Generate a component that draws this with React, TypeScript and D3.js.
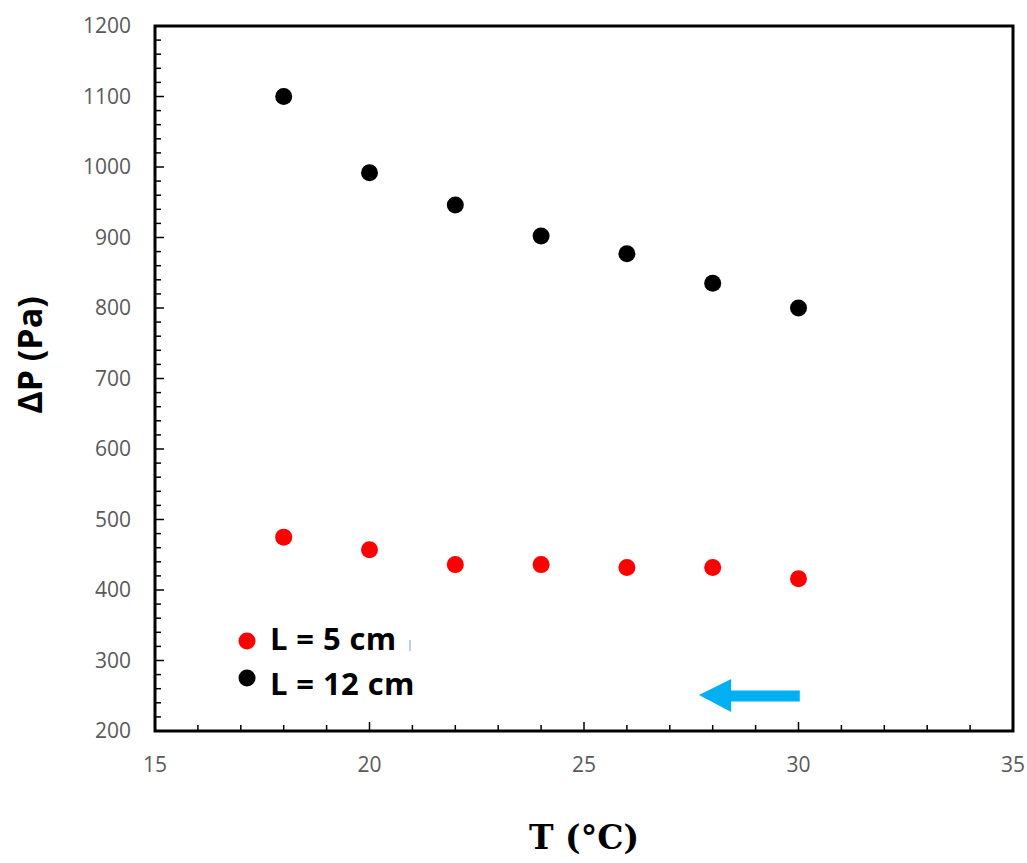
import React from "react";
import * as d3 from "d3";

const temperatures = [18, 20, 22, 24, 26, 28, 30];
const dp5cm = [475, 457, 436, 436, 432, 432, 416];
const dp12cm = [1100, 992, 946, 902, 877, 835, 800];
const xTicks = [15, 20, 25, 30, 35];
const yTicks = [200, 300, 400, 500, 600, 700, 800, 900, 1000, 1100, 1200];
const legendLabels = ["L = 5 cm", "L = 12 cm"];
const seriesColors = ["#FF0000", "#000000"];

export default function App() {
  const W = 1027, H = 863;
  const left = 155, right = 1013, top = 26, bottom = 731;
  const x = d3.scaleLinear().domain([15, 35]).range([left, right]);
  const y = d3.scaleLinear().domain([200, 1200]).range([bottom, top]);
  const xMinor = d3.range(15, 35.001, 1);
  const yMinor = d3.range(200, 1200.001, 20);
  const series = [dp5cm, dp12cm];
  const tickFont = "'Open Sans', 'Liberation Sans', sans-serif";

  const arrowPath = d3.path();
  arrowPath.moveTo(x(27.68), 695);
  arrowPath.lineTo(x(28.43), 679);
  arrowPath.lineTo(x(28.43), 690.5);
  arrowPath.lineTo(x(30.03), 690.5);
  arrowPath.lineTo(x(30.03), 701.5);
  arrowPath.lineTo(x(28.43), 701.5);
  arrowPath.lineTo(x(28.43), 712);
  arrowPath.closePath();

  return (
    <svg width={W} height={H} style={{ position: "absolute", left: 0, top: 0, background: "#fff" }}>
      <rect width={W} height={H} fill="#fff" />
      {/* minor ticks */}
      {yMinor.map((v) => (
        <line key={"ym" + v} x1={left} x2={left + (v % 100 === 0 ? 9 : 6)} y1={y(v)} y2={y(v)} stroke="#000" strokeWidth={1.5} />
      ))}
      {xMinor.map((v) => (
        <line key={"xm" + v} x1={x(v)} x2={x(v)} y1={bottom} y2={bottom - (v % 5 === 0 ? 9 : 6)} stroke="#000" strokeWidth={1.5} />
      ))}
      {/* frame */}
      <rect x={left} y={top} width={right - left} height={bottom - top} fill="none" stroke="#000" strokeWidth={3} />
      {/* tick labels */}
      {yTicks.map((v) => (
        <text key={"yt" + v} x={131} y={y(v)} dy="0.35em" textAnchor="end" fontFamily={tickFont} fontSize={21} fill="#595959">{v}</text>
      ))}
      {xTicks.map((v) => (
        <text key={"xt" + v} x={x(v)} y={765} dy="0.35em" textAnchor="middle" fontFamily={tickFont} fontSize={21} fill="#595959">{v}</text>
      ))}
      {/* data */}
      {series.map((s, si) =>
        s.map((v, i) => (
          <circle key={"p" + si + "-" + i} cx={x(temperatures[i])} cy={y(v)} r={8.5} fill={seriesColors[si]} />
        ))
      )}
      {/* legend */}
      {legendLabels.map((lab, i) => (
        <g key={"lg" + i}>
          <circle cx={247} cy={641 + i * 37} r={8.5} fill={seriesColors[i]} />
          <text x={270} y={650 + i * 45} fontFamily={tickFont} fontWeight="bold" fontSize={31} letterSpacing={0.4} fill="#000">{lab}</text>
        </g>
      ))}
      <line x1={410} x2={410} y1={640} y2={651} stroke="#9DC3E6" strokeWidth={1.5} />
      {/* arrow */}
      <path d={arrowPath.toString()} fill="#00B0F0" />
      {/* axis titles */}
      <text transform="translate(42,355) rotate(-90)" textAnchor="middle" fontFamily={tickFont} fontWeight="bold" fontSize={34} fill="#000">ΔP (Pa)</text>
      <text x={584} y={849} textAnchor="middle" fontFamily="'DejaVu Serif', 'Liberation Serif', serif" fontWeight="bold" fontSize={33} fill="#000">T (°C)</text>
    </svg>
  );
}
